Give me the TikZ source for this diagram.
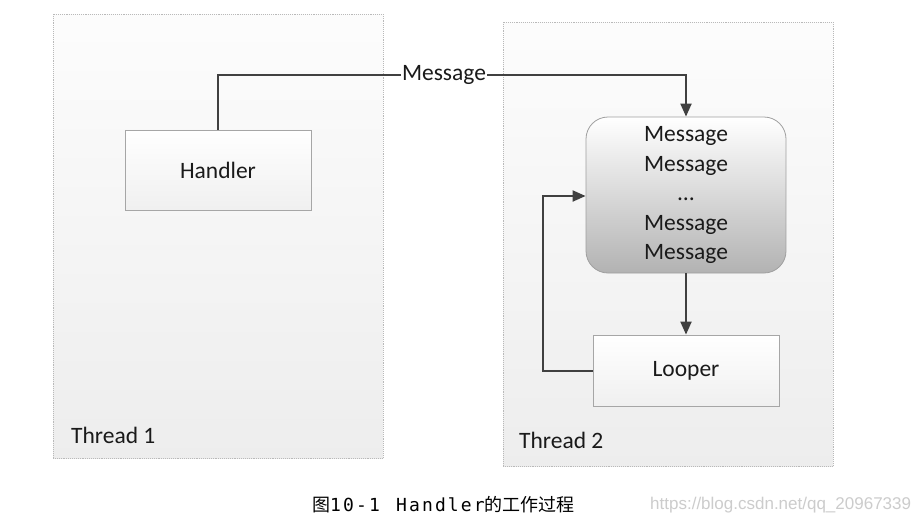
\documentclass[tikz,border=0pt]{standalone}
\usepackage{fontspec}
\setmainfont{Carlito}
\newfontfamily\cjkfont{Noto Sans CJK SC}
\newfontfamily\capmono{DejaVu Sans Mono}[LetterSpace=12]
\newfontfamily\wmfont{Liberation Sans}
\usetikzlibrary{arrows.meta}
\definecolor{linegray}{HTML}{404040}
\definecolor{textgray}{HTML}{1A1A1A}
\tikzset{
  thread/.style={draw=gray!55, densely dotted, line width=0.9pt, top color=white!98!gray, bottom color=gray!14, minimum width=330pt, minimum height=444pt, inner sep=0pt},
  plainbox/.style={draw=gray!70, line width=0.8pt, top color=white, bottom color=gray!12, text=textgray, font=\fontsize{23.5}{28}\selectfont, inner sep=0pt},
  queuebox/.style={draw=gray!75, line width=0.8pt, rounded corners=22pt, top color=white, bottom color=gray!60, minimum width=200pt, minimum height=156pt, inner sep=0pt},
  conn/.style={draw=linegray, line width=2pt},
  arr/.style={conn, -{Triangle[length=13pt,width=11pt]}},
  lbl/.style={text=textgray, font=\fontsize{23.5}{28}\selectfont, inner sep=1pt},
}
\begin{document}
\begin{tikzpicture}[x=1pt,y=-1pt]
\useasboundingbox[fill=white] (0,0) rectangle (912,523);
% thread areas
\node[thread] (t1) at (218,236) {};
\node[thread] (t2) at (668,244) {};
\node[lbl, anchor=base west] (t1l) at (70,443) {Thread 1};
\node[lbl, anchor=base west] (t2l) at (518,448) {Thread 2};
% boxes
\node[plainbox, minimum width=186pt, minimum height=80pt] (handler) at (218,170) {Handler};
\node[queuebox] (queue) at (686,195) {};
\node[lbl, align=center, font=\fontsize{23.5}{29.5}\selectfont] (qtext) at (686,195) {Message\\Message\\…\\Message\\Message};
\node[plainbox, minimum width=186pt, minimum height=71pt] (looper) at (686,370.5) {Looper};
% message label
\node[lbl] (msg) at (444,75) {Message};
\coordinate (c1) at (218,75);
\coordinate (c2) at (686,75);
\coordinate (c3) at (543,370.5);
\coordinate (c4) at (543,196);
% connectors
\draw[conn] (handler.north) -- (c1) -- (msg.west);
\draw[arr] (msg.east) -- (c2) -- (queue.north);
\draw[arr] (queue.south) -- (looper.north);
\draw[arr] (looper.west) -- (c3) -- (c4) -- (queue.west |- c4);
% caption
\node[anchor=west, inner sep=0pt, font=\fontsize{18}{20}\selectfont] (cap) at (312,505) {{\cjkfont 图}{\capmono 10-1}\hspace{16pt}{\capmono Handler}{\cjkfont 的工作过程}};
\node[anchor=west, inner sep=0pt, text=gray!40, font=\wmfont\fontsize{17}{20}\selectfont] (wm) at (650,505) {https://blog.csdn.net/qq\_20967339};
\end{tikzpicture}
\end{document}
